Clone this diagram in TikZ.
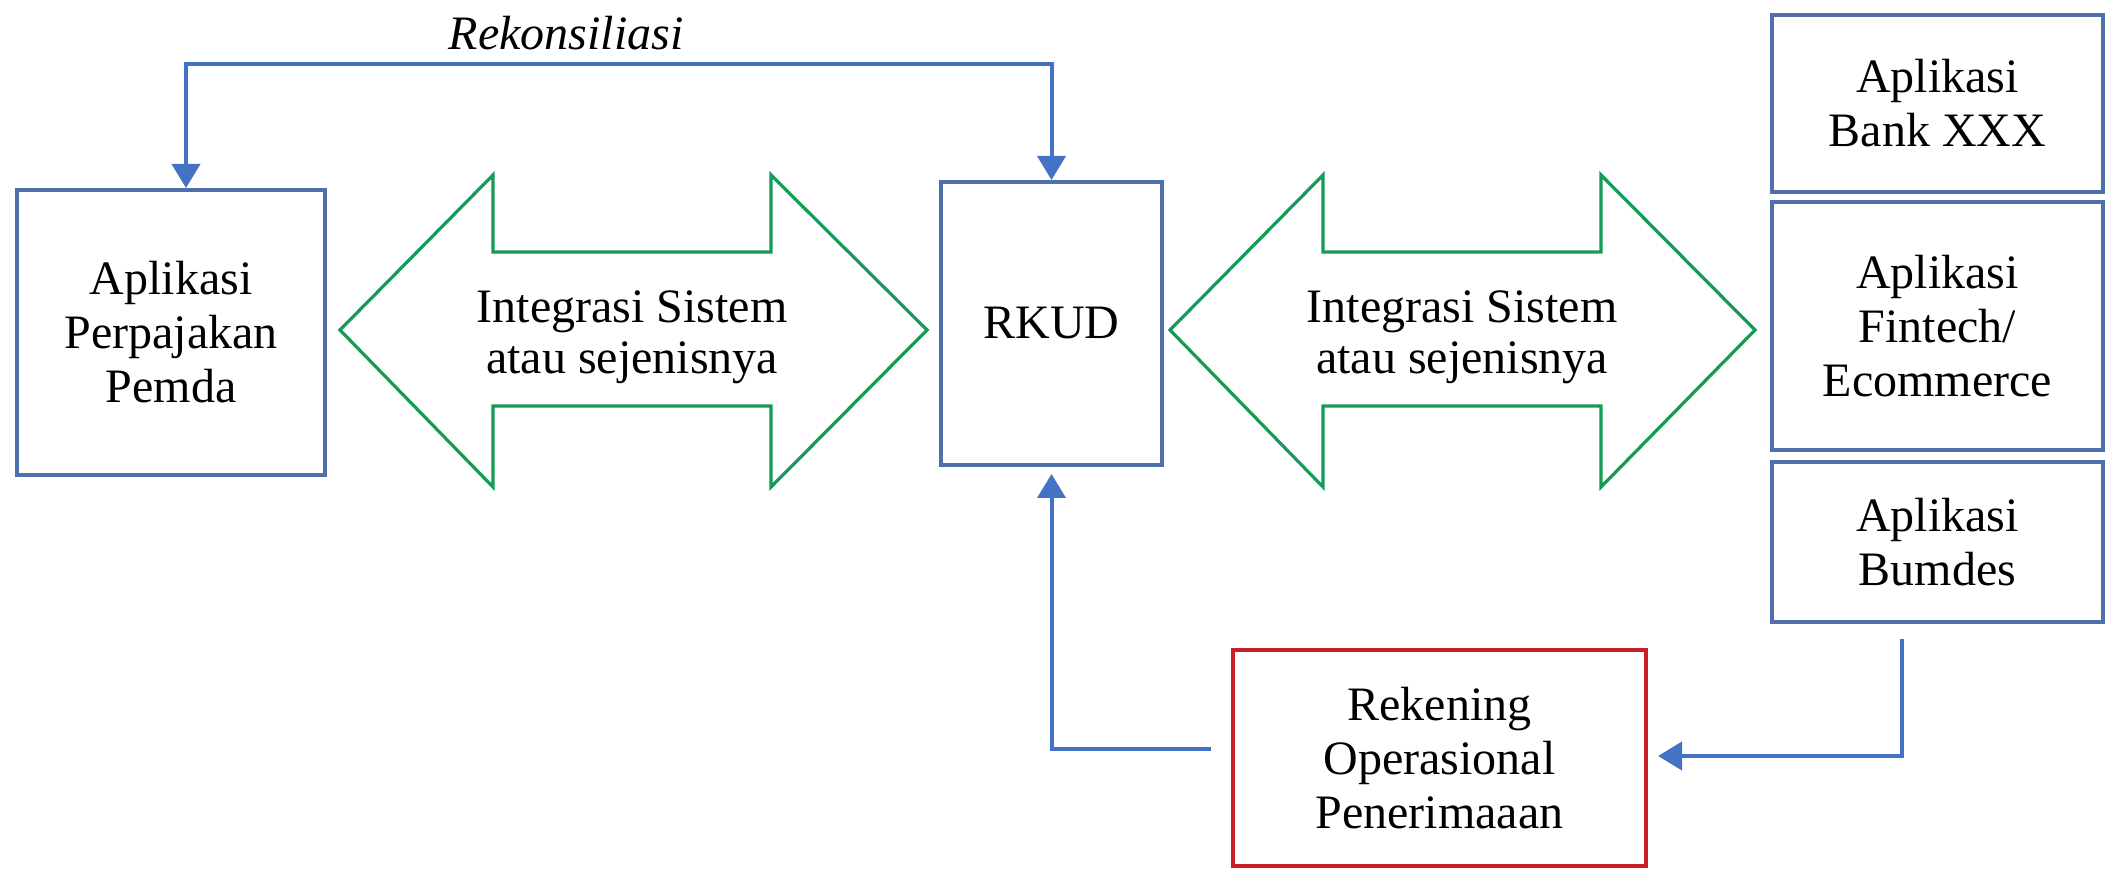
\documentclass[tikz,border=0pt]{standalone}
\usepackage{fontspec}
\setmainfont{Liberation Serif}
\usetikzlibrary{arrows.meta}

\definecolor{boxblue}{RGB}{79,112,170}
\definecolor{arrowblue}{RGB}{68,114,196}
\definecolor{intgreen}{RGB}{20,155,85}
\definecolor{accred}{RGB}{196,32,38}

\tikzset{
  appbox/.style={draw=boxblue, line width=2pt, fill=white, align=center, inner sep=0pt,
    font=\fontsize{24}{27}\selectfont},
  integ/.style={draw=intgreen, line width=1.6pt, line join=miter},
  integtext/.style={align=center, font=\fontsize{24}{25.5}\selectfont},
  link/.style={draw=arrowblue, line width=2pt, >={Triangle[width=14pt,length=12pt]}},
}

\begin{document}
\begin{tikzpicture}[x=0.5pt,y=-0.5pt]
  \useasboundingbox (0,0) rectangle (2107,870);

  % boxes
  \node[appbox, minimum width=154pt, minimum height=142.5pt] (pemda) at (171,332.5) {Aplikasi\\Perpajakan\\Pemda};
  \node[appbox, minimum width=110.5pt, minimum height=141.5pt] (rkud) at (1051.5,323.5) {RKUD};
  \node[appbox, minimum width=165.5pt, minimum height=88.5pt] (bank) at (1937.5,103.5) {Aplikasi\\Bank XXX};
  \node[appbox, minimum width=165.5pt, minimum height=124pt] (fintech) at (1937.5,326) {Aplikasi\\Fintech/\\Ecommerce};
  \node[appbox, minimum width=165.5pt, minimum height=80pt] (bumdes) at (1937.5,542) {Aplikasi\\Bumdes};
  \node[appbox, draw=accred, minimum width=206.5pt, minimum height=108pt] (opr) at (1439.5,758) {Rekening\\Operasional\\Penerimaaan};

  % integration arrows
  \draw[integ] (340,330) -- (493,175) -- (493,252) -- (771,252) -- (771,175) -- (927,330)
    -- (771,487) -- (771,406) -- (493,406) -- (493,487) -- cycle;
  \node[integtext] (intleft) at (632,337) {Integrasi Sistem\\atau sejenisnya};
  \draw[integ] (1170,330) -- (1323,175) -- (1323,252) -- (1601,252) -- (1601,175) -- (1755,330)
    -- (1601,487) -- (1601,406) -- (1323,406) -- (1323,487) -- cycle;
  \node[integtext] (intright) at (1462,337) {Integrasi Sistem\\atau sejenisnya};

  % connectors
  \coordinate (rek) at (566,64);
  \node[font=\fontsize{24}{27}\selectfont\itshape] (reklabel) at (566,33) {Rekonsiliasi};
  \draw[link,<->] ([xshift=7.5pt]pemda.north) |- (rek) -| (rkud.north);
  \draw[link,->] ([xshift=-10pt,yshift=4.5pt]opr.west) -| ([yshift=-3.5pt]rkud.south);
  \draw[link,->] ([xshift=-18pt,yshift=-7.5pt]bumdes.south) |- ([xshift=5pt,yshift=1pt]opr.east);
\end{tikzpicture}
\end{document}
